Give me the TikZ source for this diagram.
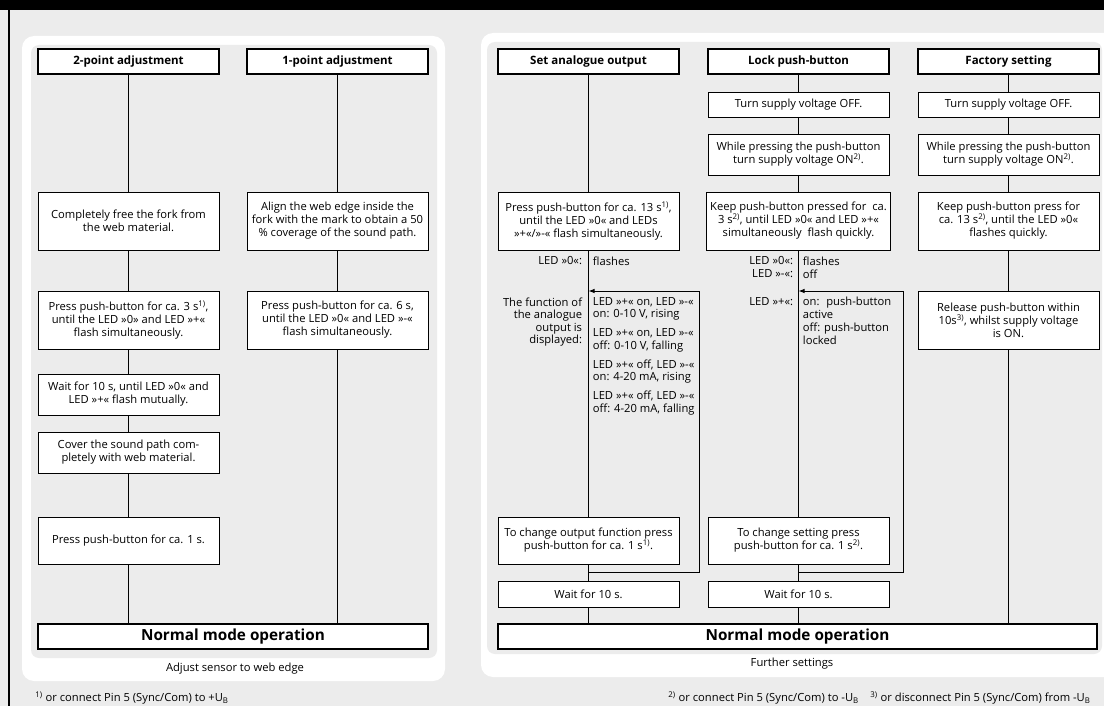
\documentclass[tikz,border=0pt]{standalone}
\usepackage{fontspec}
\setmainfont{Open Sans}
\usetikzlibrary{arrows.meta,positioning,calc}
\definecolor{panelGray}{RGB}{236,236,236}
\newcommand{\boxfont}{\fontsize{11.2}{13}\selectfont}
\newcommand{\sidefont}{\fontsize{11.2}{12.5}\selectfont}
\tikzset{%
  >={Latex[width=4.5pt,length=6pt]},
  % Specifications for style of nodes:
      base/.style = {rectangle, draw=black, fill=white, outer sep=0pt,
                     minimum width=181pt, align=center, font=\boxfont},
      head/.style = {base, line width=1.8pt, minimum height=25pt,
                     font=\fontsize{11.5}{13}\selectfont\bfseries},
   stepbox/.style = {base, line width=0.9pt},
     short/.style = {minimum height=25pt},
       mid/.style = {minimum height=41pt},
      tall/.style = {minimum height=58pt},
    normal/.style = {base, line width=1.1pt, minimum height=25pt,
                     font=\fontsize{15.3}{17}\selectfont\bfseries},
      side/.style = {inner sep=0pt, font=\sidefont},
}

\begin{document}
\begin{tikzpicture}[x=1pt, y=-1pt, node distance=17pt, line width=0.9pt]
    \clip (0,0) rectangle (1104,706);
    \fill[panelGray] (0,0) rectangle (1104,706);
    \fill[black] (0,0) rectangle (1104,10);
    \draw[line width=1.5pt] (9,10) -- (9,706);

    % panels
    \fill[white, rounded corners=12pt] (22,36) rectangle (445,681);
    \fill[panelGray, rounded corners=8pt] (31,45) rectangle (437,658);
    \node (capLeft) [font=\boxfont] at (235,669) {Adjust sensor to web edge};
    \fill[white, rounded corners=12pt] (481,33) rectangle (1116,677);
    \fill[panelGray, rounded corners=8pt] (487,42) rectangle (1102,654);
    \node (capRight) [font=\boxfont] at (792,664) {Further settings};

    % headers
    \node (twoPoint) [head] at (128.5,61.5) {2-point adjustment};
    \node (onePoint) [head, right=28pt of twoPoint] {1-point adjustment};
    \node (analogue) [head] at (588.5,61.5) {Set analogue output};
    \node (lockBtn) [head, right=29pt of analogue] {Lock push-button};
    \node (factory) [head, right=29pt of lockBtn] {Factory setting};

    % adjust sensor to web edge
    \node (freeFork) [stepbox, tall, below=118pt of twoPoint] {Completely free the fork from\\the web material.};
    \node (press3) [stepbox, tall, below=41pt of freeFork] {Press push-button for ca. 3 s\textsuperscript{1)},\\until the LED »0» and LED »+«\\flash simultaneously.};
    \node (wait10) [stepbox, mid, below=25pt of press3] {Wait for 10 s, until LED »0« and\\LED »+« flash mutually.};
    \node (cover) [stepbox, mid, below=of wait10] {Cover the sound path com-\\pletely with web material.};
    \node (press1) [stepbox, minimum height=47pt, below=44pt of cover] {Press push-button for ca. 1 s.};

    \node (alignEdge) [stepbox, tall, below=118pt of onePoint] {Align the web edge inside the\\fork with the mark to obtain a 50\\\% coverage of the sound path.};
    \node (press6) [stepbox, tall, below=41pt of alignEdge] {Press push-button for ca. 6 s,\\until the LED »0« and LED »-«\\flash simultaneously.};

    \node (normalLeft) [normal, minimum width=390pt] at (233,636.5) {Normal mode operation};

    \draw (twoPoint) -- (freeFork);
    \draw (freeFork) -- (press3);
    \draw (press3) -- (wait10);
    \draw (wait10) -- (cover);
    \draw (cover) -- (press1);
    \draw (press1) -- (press1 |- normalLeft.north);
    \draw (onePoint) -- (alignEdge);
    \draw (alignEdge) -- (press6);
    \draw (press6) -- (press6 |- normalLeft.north);

    % further settings
    \node (press13) [stepbox, tall, below=118pt of analogue] {Press push-button for ca. 13 s\textsuperscript{1)},\\until the LED »0« and LEDs\\»+«/»-« flash simultaneously.};
    \node (changeOut) [stepbox, minimum height=47pt, below=267pt of press13] {To change output function press\\push-button for ca. 1 s\textsuperscript{1)}.};
    \node (waitC) [stepbox, minimum height=26pt, below=of changeOut] {Wait for 10 s.};

    \node (offD) [stepbox, short, below=18pt of lockBtn] {Turn supply voltage OFF.};
    \node (onD) [stepbox, mid, below=of offD] {While pressing the push-button\\turn supply voltage ON\textsuperscript{2)}.};
    \node (keepD) [stepbox, tall, below=of onD] {Keep push-button pressed for~ ca.\\3 s\textsuperscript{2)}, until LED »0« and LED »+«\\simultaneously~ flash quickly.};
    \node (changeSet) [stepbox, minimum height=47pt, below=267pt of keepD] {To change setting press\\push-button for ca. 1 s\textsuperscript{2)}.};
    \node (waitD) [stepbox, minimum height=26pt, below=of changeSet] {Wait for 10 s.};

    \node (offE) [stepbox, short, below=18pt of factory] {Turn supply voltage OFF.};
    \node (onE) [stepbox, mid, below=of offE] {While pressing the push-button\\turn supply voltage ON\textsuperscript{2)}.};
    \node (keepE) [stepbox, tall, below=of onE] {Keep push-button press for\\ca. 13 s\textsuperscript{2)}, until the LED »0«\\flashes quickly.};
    \node (release) [stepbox, tall, below=41pt of keepE] {Release push-button within\\10s\textsuperscript{3)}, whilst supply voltage\\is ON.};

    \node (normalRight) [normal, minimum width=599pt] at (797.5,636.5) {Normal mode operation};

    \draw (analogue) -- (press13);
    \draw (press13) -- (changeOut);
    \draw (changeOut) -- (waitC);
    \draw (waitC) -- (waitC |- normalRight.north);
    \draw (lockBtn) -- (offD);
    \draw (offD) -- (onD);
    \draw (onD) -- (keepD);
    \draw (keepD) -- (changeSet);
    \draw (changeSet) -- (waitD);
    \draw (waitD) -- (waitD |- normalRight.north);
    \draw (factory) -- (offE);
    \draw (offE) -- (onE);
    \draw (onE) -- (keepE);
    \draw (keepE) -- (release);
    \draw (release) -- (release |- normalRight.north);

    % loops back
    \coordinate (splitC) at ([yshift=-8pt]changeOut.south);
    \coordinate (joinC) at ([yshift=-41pt]press13.south);
    \coordinate (turnC) at ([xshift=20pt]changeOut.east |- joinC);
    \draw [->] (splitC) -| (turnC) -- (joinC);
    \coordinate (splitD) at ([yshift=-8pt]changeSet.south);
    \coordinate (joinD) at ([yshift=-41pt]keepD.south);
    \coordinate (turnD) at ([xshift=14pt]changeSet.east |- joinD);
    \draw [->] (splitD) -| (turnD) -- (joinD);

    % LED states
    \node (ledZeroC) [side, anchor=east] at ([xshift=-6pt]joinC |- 0,261) {LED »0«:};
    \node (flashC) [side, anchor=west] at ([xshift=4pt]joinC |- 0,261) {flashes};
    \node (funcText) [side, anchor=north east, align=right] at ([xshift=-6pt]joinC |- 0,297) {The function of\\the analogue\\output is\\displayed:};
    \node (funcStates) [side, anchor=north west, align=left] at ([xshift=4pt]joinC |- 0,297) {LED »+« on, LED »-«\\on: 0-10 V, rising\\[6.5pt]LED »+« on, LED »-«\\off: 0-10 V, falling\\[6.5pt]LED »+« off, LED »-«\\on: 4-20 mA, rising\\[6.5pt]LED »+« off, LED »-«\\off: 4-20 mA, falling};

    \node (ledNamesD) [side, anchor=north east, align=right, font=\boxfont] at ([xshift=-5pt]joinD |- 0,256) {LED »0«:\\LED »-«:};
    \node (ledValsD) [side, anchor=north west, align=left, font=\boxfont] at ([xshift=4pt]joinD |- 0,256) {flashes\\off};
    \node (ledPlusD) [side, anchor=east] at ([xshift=-5pt]joinD |- 0,302) {LED »+«:};
    \node (plusValsD) [side, anchor=north west, align=left, font=\boxfont] at ([xshift=4pt]joinD |- 0,297) {on:~ push-button\\active\\off: push-button\\locked};

    % footnotes
    \node (noteOne) [side, anchor=west] at (35,698) {\textsuperscript{1)} or connect Pin 5 (Sync/Com) to +U\textsubscript{B}};
    \node (noteTwo) [side, anchor=west] at (668,698) {\textsuperscript{2)} or connect Pin 5 (Sync/Com) to -U\textsubscript{B}};
    \node (noteThree) [side, anchor=west] at (870,698) {\textsuperscript{3)} or disconnect Pin 5 (Sync/Com) from -U\textsubscript{B}};
\end{tikzpicture}
\end{document}
